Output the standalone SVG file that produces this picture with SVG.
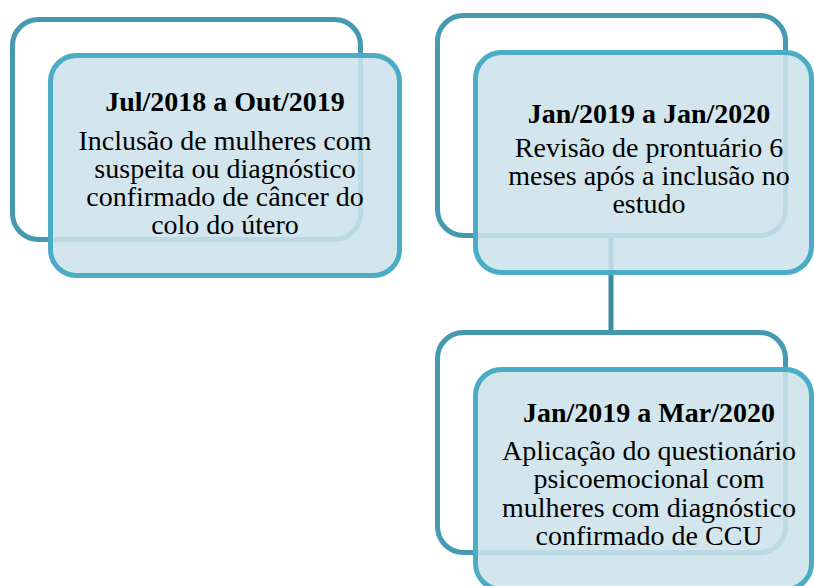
<svg xmlns="http://www.w3.org/2000/svg" width="814" height="586" viewBox="0 0 814 586">
<style>
.back{fill:#ffffff;stroke:#4599b0;stroke-width:5}
.front{fill:#cde2ea;fill-opacity:0.88;stroke:#4bacc6;stroke-width:5}
.conn{stroke:#3d8da2;stroke-width:5;fill:none}
text{font-family:"Liberation Serif","Times New Roman",serif;font-size:28px;fill:#000;text-anchor:middle}
.t{font-weight:bold}
</style>
<rect width="814" height="586" fill="#ffffff"/>
<g id="connectors">
<line class="conn" x1="611" y1="236" x2="611" y2="333"/>
</g>
<g id="node1">
<rect class="back" x="12.5" y="19.5" width="348" height="220" rx="26"/>
<rect class="front" x="50.5" y="55.5" width="349" height="220" rx="26"/>
<text class="t" x="225" y="111">Jul/2018 a Out/2019</text>
<text x="225" y="150">Inclusão de mulheres com</text>
<text x="225" y="178">suspeita ou diagnóstico</text>
<text x="225" y="206">confirmado de câncer do</text>
<text x="225" y="234">colo do útero</text>
</g>
<g id="node2">
<rect class="back" x="437.5" y="15.5" width="348" height="220" rx="26"/>
<rect class="front" x="475.5" y="52.5" width="336" height="220" rx="26"/>
<text class="t" x="649" y="123">Jan/2019 a Jan/2020</text>
<text x="649" y="157">Revisão de prontuário 6</text>
<text x="649" y="185">meses após a inclusão no</text>
<text x="649" y="213">estudo</text>
</g>
<g id="node3">
<rect class="back" x="437.5" y="332.5" width="348" height="220" rx="26"/>
<rect class="front" x="475.5" y="369.5" width="336" height="220" rx="26"/>
<text class="t" x="649" y="422">Jan/2019 a Mar/2020</text>
<text x="649" y="460">Aplicação do questionário</text>
<text x="649" y="488">psicoemocional com</text>
<text x="649" y="517">mulheres com diagnóstico</text>
<text x="649" y="545">confirmado de CCU</text>
</g>
</svg>
